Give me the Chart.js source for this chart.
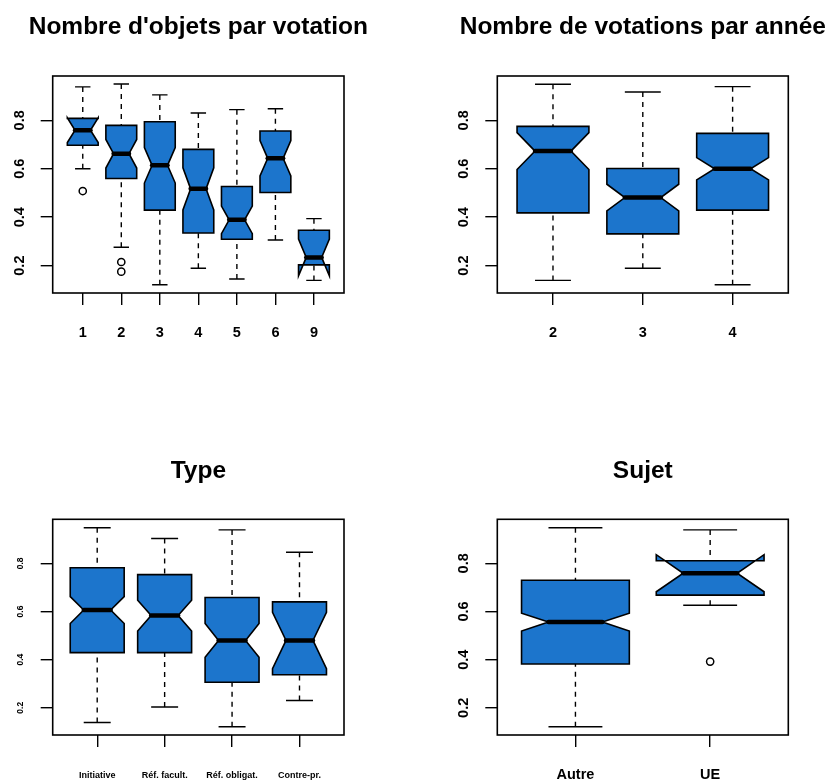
<!DOCTYPE html>
<html>
<head>
<meta charset="utf-8">
<script src="https://cdn.jsdelivr.net/npm/chart.js@4.4.0/dist/chart.umd.min.js"></script>
<style>
  html, body { margin: 0; padding: 0; background: #fff; }
  body { width: 831px; height: 781px; position: relative; overflow: hidden; }
  canvas { position: absolute; }
</style>
</head>
<body>
<canvas id="objets" width="415" height="390" style="left:0;top:0"></canvas>
<canvas id="annees" width="416" height="390" style="left:415px;top:0"></canvas>
<canvas id="type" width="415" height="391" style="left:0;top:390px"></canvas>
<canvas id="sujet" width="416" height="391" style="left:415px;top:390px"></canvas>
<script>
const FONT = "'Liberation Sans', Arial, Helvetica, sans-serif";
const BOX_FILL = '#1c75cc';

// shared y axis
const yTicks = [0.2, 0.4, 0.6, 0.8];
const yMin = 0.087;
const yMax = 0.983;

// Nombre d'objets par votation
const objLabels = ['1', '2', '3', '4', '5', '6', '9'];
const objLower = [0.600, 0.276, 0.121, 0.189, 0.145, 0.306, 0.139];
const objQ1 = [0.697, 0.560, 0.429, 0.335, 0.309, 0.502, 0.203];
const objMedian = [0.759, 0.662, 0.614, 0.517, 0.389, 0.643, 0.234];
const objQ3 = [0.808, 0.779, 0.794, 0.680, 0.527, 0.756, 0.346];
const objUpper = [0.938, 0.950, 0.905, 0.830, 0.844, 0.848, 0.394];
const objNotch = [0.051, 0.059, 0.073, 0.087, 0.057, 0.073, 0.076];
const objOutliers = [[1, 0.508], [2, 0.215], [2, 0.175]];

// Nombre de votations par année
const anLabels = ['2', '3', '4'];
const anLower = [0.139, 0.189, 0.121];
const anQ1 = [0.418, 0.331, 0.429];
const anMedian = [0.673, 0.481, 0.600];
const anQ3 = [0.775, 0.601, 0.746];
const anUpper = [0.949, 0.917, 0.939];
const anNotch = [0.076, 0.055, 0.046];
const anOutliers = [];

// Type
const typeLabels = ['Initiative', 'Réf. facult.', 'Réf. obligat.', 'Contre-pr.'];
const typeLower = [0.139, 0.203, 0.121, 0.230];
const typeQ1 = [0.429, 0.429, 0.306, 0.337];
const typeMedian = [0.606, 0.583, 0.480, 0.480];
const typeQ3 = [0.782, 0.753, 0.658, 0.640];
const typeUpper = [0.948, 0.903, 0.939, 0.846];
const typeNotch = [0.056, 0.064, 0.070, 0.117];
const typeOutliers = [];

// Sujet
const sujetLabels = ['Autre', 'UE'];
const sujetLower = [0.121, 0.626];
const sujetQ1 = [0.382, 0.668];
const sujetMedian = [0.556, 0.759];
const sujetQ3 = [0.730, 0.811];
const sujetUpper = [0.948, 0.939];
const sujetNotch = [0.037, 0.077];
const sujetOutliers = [[2, 0.392]];

// draws notched boxes (R style) through the chart scales, plus frame and title
function boxPlugin(title, titleY, s) {
    return {
        id: 'notchedBoxes',
        beforeDatasetsDraw(chart) {
            const ctx = chart.ctx;
            const xs = chart.scales.x;
            const ys = chart.scales.y;
            const py = v => ys.getPixelForValue(v);
            s.median.forEach((m, i) => {
                const cx = xs.getPixelForValue(i + 1);
                const w = xs.getPixelForValue(i + 1.4) - cx;
                const nlo = m - s.notch[i];
                const nhi = m + s.notch[i];
                ctx.save();
                ctx.strokeStyle = '#000';
                ctx.lineWidth = 1.4;
                // whiskers
                ctx.setLineDash([5, 5]);
                ctx.beginPath();
                ctx.moveTo(cx, py(s.upper[i]));
                ctx.lineTo(cx, py(s.q3[i]));
                ctx.moveTo(cx, py(s.lower[i]));
                ctx.lineTo(cx, py(s.q1[i]));
                ctx.stroke();
                ctx.setLineDash([]);
                // staples
                ctx.beginPath();
                ctx.moveTo(cx - w / 2, py(s.upper[i]));
                ctx.lineTo(cx + w / 2, py(s.upper[i]));
                ctx.moveTo(cx - w / 2, py(s.lower[i]));
                ctx.lineTo(cx + w / 2, py(s.lower[i]));
                ctx.stroke();
                // notched box
                ctx.beginPath();
                ctx.moveTo(cx - w, py(s.q1[i]));
                ctx.lineTo(cx + w, py(s.q1[i]));
                ctx.lineTo(cx + w, py(nlo));
                ctx.lineTo(cx + w / 2, py(m));
                ctx.lineTo(cx + w, py(nhi));
                ctx.lineTo(cx + w, py(s.q3[i]));
                ctx.lineTo(cx - w, py(s.q3[i]));
                ctx.lineTo(cx - w, py(nhi));
                ctx.lineTo(cx - w / 2, py(m));
                ctx.lineTo(cx - w, py(nlo));
                ctx.closePath();
                ctx.fillStyle = BOX_FILL;
                ctx.fill();
                ctx.lineWidth = 1.6;
                ctx.stroke();
                // median
                ctx.lineWidth = 4.5;
                ctx.lineCap = 'round';
                ctx.beginPath();
                ctx.moveTo(cx - w / 2, py(m));
                ctx.lineTo(cx + w / 2, py(m));
                ctx.stroke();
                ctx.restore();
            });
        },
        afterDraw(chart) {
            const ctx = chart.ctx;
            const a = chart.chartArea;
            ctx.save();
            ctx.strokeStyle = '#000';
            ctx.lineWidth = 1.6;
            ctx.strokeRect(a.left, a.top, a.right - a.left, a.bottom - a.top);
            ctx.fillStyle = '#000';
            ctx.font = 'bold 24.5px ' + FONT;
            ctx.textAlign = 'center';
            ctx.textBaseline = 'middle';
            ctx.fillText(title, (a.left + a.right) / 2, titleY);
            ctx.restore();
        }
    };
}

function makeChart(id, cfg) {
    const n = cfg.labels.length;
    const stats = { lower: cfg.lower, q1: cfg.q1, median: cfg.median, q3: cfg.q3, upper: cfg.upper, notch: cfg.notch };
    return new Chart(document.getElementById(id), {
        type: 'scatter',
        data: {
            datasets: [{
                data: cfg.outliers.map(o => ({ x: o[0], y: o[1] })),
                pointRadius: 3.6,
                pointBorderWidth: 1.5,
                pointBackgroundColor: '#fff',
                pointBorderColor: '#000'
            }]
        },
        options: {
            responsive: false,
            animation: false,
            devicePixelRatio: 1,
            layout: { padding: { left: 0, right: cfg.padRight, top: cfg.padTop, bottom: 0 } },
            plugins: { legend: { display: false }, tooltip: { enabled: false } },
            scales: {
                x: {
                    type: 'linear',
                    min: 0.5 - 0.04 * n,
                    max: n + 0.5 + 0.04 * n,
                    afterBuildTicks: scale => { scale.ticks = cfg.labels.map((_, i) => ({ value: i + 1 })); },
                    afterFit: scale => { scale.height = cfg.xHeight; },
                    grid: { drawOnChartArea: false, drawTicks: true, tickLength: 12, color: '#000', lineWidth: 1.4 },
                    border: { display: false },
                    ticks: {
                        autoSkip: false, maxRotation: 0, minRotation: 0,
                        padding: cfg.xPad,
                        color: '#000',
                        font: { family: FONT, size: cfg.xFont, weight: 'bold' },
                        callback: v => cfg.labels[Math.round(v) - 1]
                    }
                },
                y: {
                    type: 'linear',
                    min: yMin,
                    max: yMax,
                    afterBuildTicks: scale => { scale.ticks = yTicks.map(v => ({ value: v })); },
                    afterFit: scale => { scale.width = cfg.yWidth; },
                    grid: { drawOnChartArea: false, drawTicks: true, tickLength: 12, color: '#000', lineWidth: 1.4 },
                    border: { display: false },
                    ticks: {
                        minRotation: 90, maxRotation: 90,
                        crossAlign: 'center',
                        padding: cfg.yPad,
                        color: '#000',
                        font: { family: FONT, size: cfg.yFont, weight: 'bold' },
                        callback: v => v.toFixed(1)
                    }
                }
            }
        },
        plugins: [boxPlugin(cfg.title, cfg.titleY, stats)]
    });
}

makeChart('objets', {
    title: "Nombre d'objets par votation", titleY: 27.5,
    labels: objLabels, lower: objLower, q1: objQ1, median: objMedian, q3: objQ3, upper: objUpper,
    notch: objNotch, outliers: objOutliers,
    yWidth: 52.7, xHeight: 97, padRight: 71, padTop: 76,
    xFont: 14.5, yFont: 14.5, xPad: 19, yPad: 10.6
});

makeChart('annees', {
    title: 'Nombre de votations par année', titleY: 27.5,
    labels: anLabels, lower: anLower, q1: anQ1, median: anMedian, q3: anQ3, upper: anUpper,
    notch: anNotch, outliers: anOutliers,
    yWidth: 82.3, xHeight: 97, padRight: 42.7, padTop: 76,
    xFont: 14.5, yFont: 14.5, xPad: 19, yPad: 11.5
});

makeChart('type', {
    title: 'Type', titleY: 80.8,
    labels: typeLabels, lower: typeLower, q1: typeQ1, median: typeMedian, q3: typeQ3, upper: typeUpper,
    notch: typeNotch, outliers: typeOutliers,
    yWidth: 52.7, xHeight: 46, padRight: 71, padTop: 129.3,
    xFont: 9, yFont: 8.5, xPad: 23.5, yPad: 14.3
});

makeChart('sujet', {
    title: 'Sujet', titleY: 80.8,
    labels: sujetLabels, lower: sujetLower, q1: sujetQ1, median: sujetMedian, q3: sujetQ3, upper: sujetUpper,
    notch: sujetNotch, outliers: sujetOutliers,
    yWidth: 82.3, xHeight: 46, padRight: 42.7, padTop: 129.3,
    xFont: 14.5, yFont: 14.5, xPad: 18.8, yPad: 11.5
});
</script>
</body>
</html>
